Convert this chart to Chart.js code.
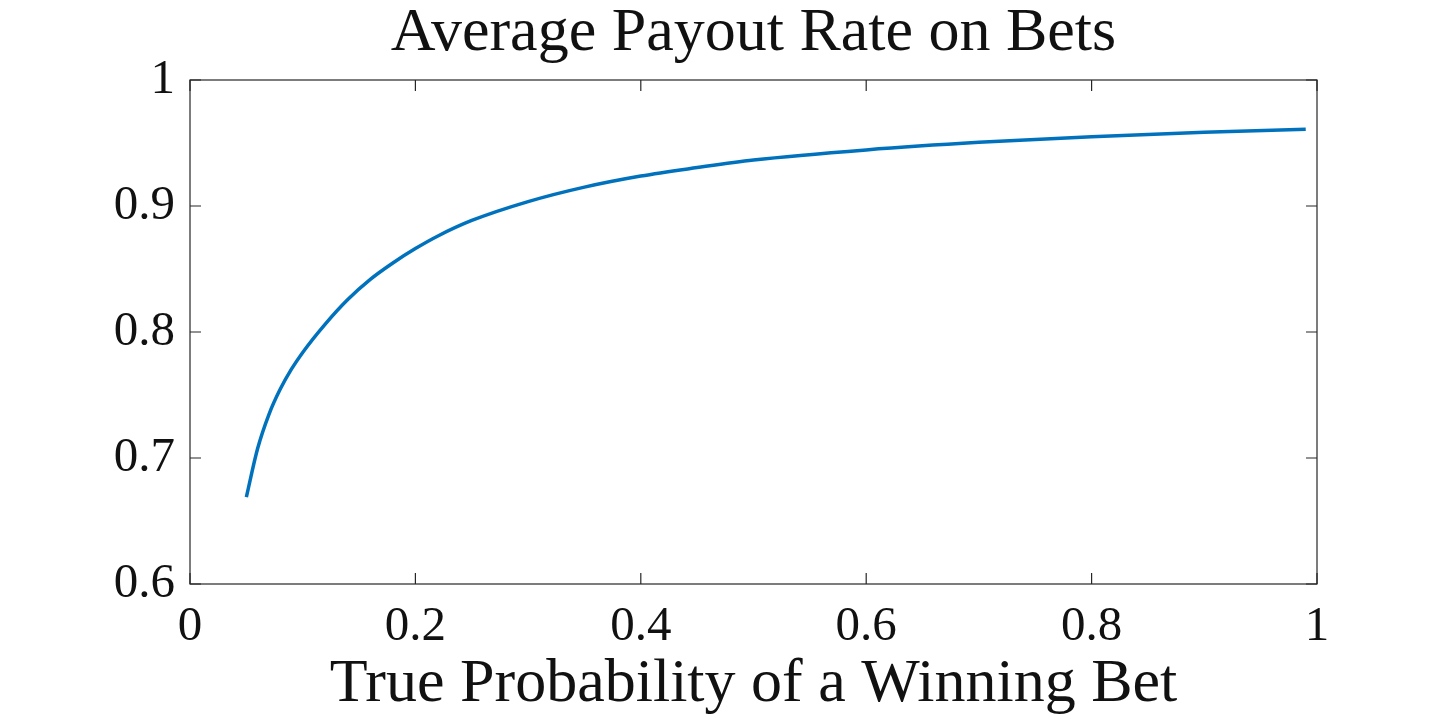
<!DOCTYPE html>
<html>
<head>
<meta charset="utf-8">
<script src="https://cdn.jsdelivr.net/npm/chart.js@4.4.1/dist/chart.umd.min.js"></script>
<style>
  html, body { margin: 0; padding: 0; background: #fff; }
  #wrap { width: 1456px; height: 724px; }
</style>
</head>
<body>
<div id="wrap"><canvas id="chart" width="1456" height="724"></canvas></div>
<script>
// valores
const probabilidad = [0.05, 0.06, 0.07, 0.08, 0.09, 0.10, 0.12, 0.14, 0.16, 0.18, 0.20,
    0.22, 0.25, 0.30, 0.35, 0.40, 0.45, 0.50, 0.60, 0.70, 0.80, 0.90, 0.99];
const pago = [0.669, 0.7075, 0.7345, 0.7545, 0.7705, 0.7838, 0.8063, 0.8258, 0.8418, 0.8548, 0.8662,
    0.8762, 0.8885, 0.9035, 0.915, 0.9238, 0.9305, 0.9365, 0.9445, 0.9505, 0.955, 0.9585, 0.961];
const xTicks = [0, 0.2, 0.4, 0.6, 0.8, 1];
const yTicks = [0.6, 0.7, 0.8, 0.9, 1];
const titulo = 'Average Payout Rate on Bets';

const tinta = '#262626';
const serif = "'Liberation Serif', 'DejaVu Serif', serif";

// caja, marcas hacia dentro y titulo centrado sobre el area del grafico
const cajaPlugin = {
    id: 'caja',
    afterDraw(chart) {
        const ctx = chart.ctx;
        const a = chart.chartArea;
        const sx = chart.scales.x;
        const sy = chart.scales.y;
        const largo = 11;
        ctx.save();
        ctx.strokeStyle = tinta;
        ctx.lineWidth = 1.2;
        ctx.strokeRect(a.left, a.top, a.right - a.left, a.bottom - a.top);
        ctx.beginPath();
        xTicks.forEach(v => {
            const px = sx.getPixelForValue(v);
            ctx.moveTo(px, a.bottom); ctx.lineTo(px, a.bottom - largo);
            ctx.moveTo(px, a.top); ctx.lineTo(px, a.top + largo);
        });
        yTicks.forEach(v => {
            const py = sy.getPixelForValue(v);
            ctx.moveTo(a.left, py); ctx.lineTo(a.left + largo, py);
            ctx.moveTo(a.right, py); ctx.lineTo(a.right - largo, py);
        });
        ctx.stroke();

        ctx.fillStyle = '#111';
        ctx.font = '62px ' + serif;
        ctx.textAlign = 'center';
        ctx.textBaseline = 'alphabetic';
        ctx.fillText(titulo, (a.left + a.right) / 2, 50);
        ctx.restore();
    }
};

const ctx = document.getElementById('chart').getContext('2d');
new Chart(ctx, {
    type: 'line',
    data: {
        datasets: [{
            data: probabilidad.map((p, i) => ({ x: p, y: pago[i] })),
            borderColor: '#0072BD',
            borderWidth: 3.5,
            pointRadius: 0,
            cubicInterpolationMode: 'monotone',
            fill: false
        }]
    },
    options: {
        responsive: false,
        animation: false,
        layout: { padding: { left: 0, right: 139, top: 80, bottom: 0 } },
        plugins: {
            legend: { display: false },
            tooltip: { enabled: false },
            title: { display: false }
        },
        scales: {
            x: {
                type: 'linear',
                min: 0,
                max: 1,
                afterFit: scale => { scale.height = 140; },
                afterBuildTicks: scale => { scale.ticks = xTicks.map(v => ({ value: v })); },
                grid: { display: false, drawTicks: false },
                border: { display: false },
                ticks: {
                    color: '#111',
                    padding: 14,
                    maxRotation: 0,
                    font: { family: serif, size: 49 },
                    callback: v => String(v)
                },
                title: {
                    display: true,
                    text: 'True Probability of a Winning Bet',
                    color: '#111',
                    font: { family: serif, size: 62, lineHeight: 1.2 },
                    padding: { top: 0, bottom: 2 }
                }
            },
            y: {
                type: 'linear',
                min: 0.6,
                max: 1,
                afterFit: scale => { scale.width = 190; },
                afterBuildTicks: scale => { scale.ticks = yTicks.map(v => ({ value: v })); },
                grid: { display: false, drawTicks: false },
                border: { display: false },
                ticks: {
                    color: '#111',
                    padding: 15,
                    font: { family: serif, size: 49 },
                    callback: v => String(v)
                }
            }
        }
    },
    plugins: [cajaPlugin]
});
</script>
</body>
</html>
